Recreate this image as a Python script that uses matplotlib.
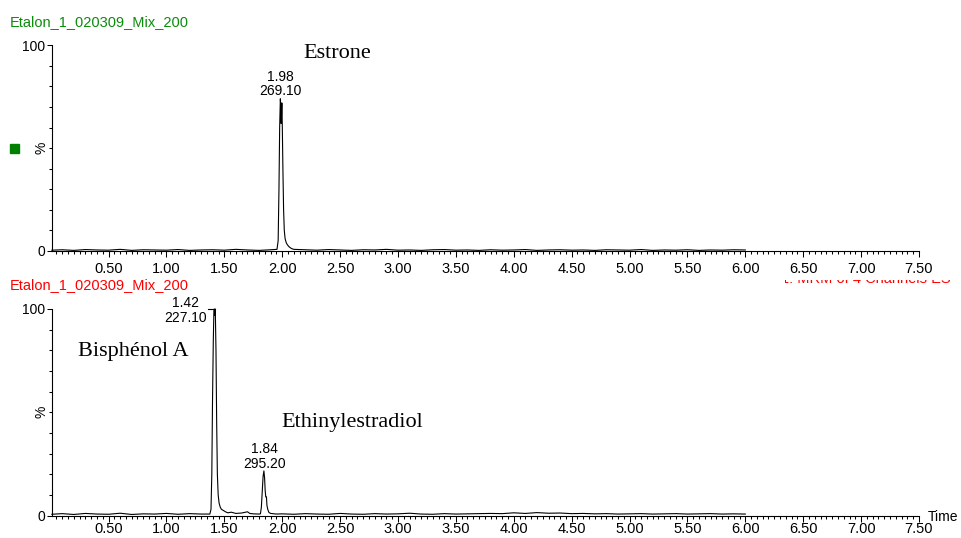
import matplotlib.pyplot as plt
from matplotlib.patches import Rectangle
from matplotlib.ticker import MultipleLocator
from matplotlib.transforms import Bbox

plt.rcParams['font.family'] = ['Liberation Sans', 'DejaVu Sans']

# top trace: Estrone, m/z 269.10 (% of base peak)
top_time = [0.01, 0.10, 0.20, 0.30, 0.40, 0.50, 0.60, 0.70, 0.80, 0.90,
            1.00, 1.10, 1.20, 1.30, 1.40, 1.50, 1.60, 1.70, 1.80, 1.90,
            1.955, 1.965, 1.972, 1.978, 1.984, 1.988, 1.991, 1.994, 1.997, 2.001,
            2.006, 2.012, 2.018, 2.025, 2.035, 2.045, 2.06, 2.08, 2.10,
            2.20, 2.30, 2.40, 2.50, 2.60, 2.70, 2.80, 2.90, 3.00, 3.10,
            3.20, 3.30, 3.40, 3.50, 3.60, 3.70, 3.80, 3.90, 4.00, 4.10,
            4.20, 4.30, 4.40, 4.50, 4.60, 4.70, 4.80, 4.90, 5.00, 5.10,
            5.20, 5.30, 5.40, 5.50, 5.60, 5.70, 5.80, 5.90, 6.00]
top_int = [0.4, 0.6, 0.3, 0.7, 0.5, 0.4, 0.8, 0.3, 0.6, 0.5,
           0.4, 0.7, 0.3, 0.5, 0.6, 0.4, 0.8, 0.5, 0.3, 0.6,
           0.8, 5, 30, 60, 74, 70, 62, 66, 72, 60,
           40, 20, 10, 6, 4, 3, 2, 1.2, 0.8,
           0.6, 0.4, 0.7, 0.5, 0.3, 0.6, 0.5, 0.8, 0.4, 0.5,
           0.3, 0.6, 0.7, 0.4, 0.5, 0.3, 0.6, 0.4, 0.5, 0.7,
           0.3, 0.5, 0.6, 0.4, 0.5, 0.3, 0.6, 0.5, 0.4, 0.7,
           0.3, 0.5, 0.4, 0.6, 0.3, 0.5, 0.4, 0.6, 0.5]

# bottom trace: Bisphenol A (227.10) + Ethinylestradiol (295.20)
bot_time = [0.01, 0.10, 0.20, 0.30, 0.40, 0.50, 0.60, 0.70, 0.80, 0.90,
            1.00, 1.10, 1.20, 1.30,
            1.375, 1.385, 1.392, 1.398, 1.405, 1.410, 1.414, 1.418, 1.422, 1.428,
            1.434, 1.440, 1.447, 1.455, 1.465, 1.475, 1.49, 1.51, 1.53, 1.56,
            1.60, 1.65, 1.70, 1.72, 1.75, 1.80,
            1.812, 1.82, 1.828, 1.835, 1.842, 1.848, 1.853, 1.858, 1.864, 1.868,
            1.875, 1.885, 1.90, 1.95,
            2.00, 2.10, 2.20, 2.30, 2.40, 2.50, 2.60, 2.70, 2.80, 2.90,
            3.00, 3.10, 3.20, 3.30, 3.40, 3.50, 3.60, 3.70, 3.80, 3.90,
            4.00, 4.10, 4.20, 4.30, 4.40, 4.50, 4.60, 4.70, 4.80, 4.90,
            5.00, 5.10, 5.20, 5.30, 5.40, 5.50, 5.60, 5.70, 5.80, 5.90, 6.00]
bot_int = [0.6, 0.9, 0.5, 1.0, 0.7, 0.6, 1.1, 0.5, 0.8, 0.7,
           1.0, 0.6, 0.9, 0.7,
           0.7, 3, 20, 55, 85, 99, 100, 97, 100, 80,
           45, 20, 10, 6, 4, 3, 2.5, 1.8, 1.3, 1.6,
           1.0, 1.2, 1.8, 1.0, 0.8, 0.7,
           0.8, 4, 12, 19, 21.6, 18, 12, 9, 9, 5,
           3, 1.5, 1.0, 0.7,
           0.8, 0.6, 0.9, 0.7, 0.6, 1.0, 0.7, 0.6, 0.9, 0.7,
           0.8, 1.1, 0.7, 0.6, 0.9, 0.7, 0.8, 0.9, 1.0, 0.9,
           1.3, 1.0, 1.4, 1.1, 1.2, 0.9, 1.0, 0.8, 0.9, 0.7,
           0.8, 0.9, 0.7, 0.8, 0.9, 0.7, 0.8, 0.9, 0.7, 0.8, 0.7]

x_ticks = [0.5, 1.0, 1.5, 2.0, 2.5, 3.0, 3.5, 4.0, 4.5, 5.0, 5.5, 6.0, 6.5, 7.0, 7.5]
x_labels = ["0.50", "1.00", "1.50", "2.00", "2.50", "3.00", "3.50", "4.00",
            "4.50", "5.00", "5.50", "6.00", "6.50", "7.00", "7.50"]

sample_name = "Etalon_1_020309_Mix_200"

W, H = 962, 538
fig = plt.figure(figsize=(W / 100, H / 100), dpi=100)


def px_axes(left, top, right, bottom):
    return fig.add_axes([left / W, 1 - bottom / H, (right - left) / W, (bottom - top) / H])


def style(ax, xpad):
    ax.set_xlim(0.01, 7.5)
    ax.set_ylim(0, 100)
    for s in ("top", "right"):
        ax.spines[s].set_visible(False)
    for s in ("left", "bottom"):
        ax.spines[s].set_linewidth(0.8)
    ax.set_xticks(x_ticks)
    ax.set_xticklabels(x_labels)
    ax.xaxis.set_minor_locator(MultipleLocator(0.05))
    ax.set_yticks([0, 100])
    ax.set_yticklabels(["0", "100"])
    ax.yaxis.set_minor_locator(MultipleLocator(10))
    ax.tick_params(axis="x", which="major", length=4.3, width=0.75, pad=xpad, labelsize=10.5)
    ax.tick_params(axis="x", which="minor", length=2.5, width=0.75)
    ax.tick_params(axis="y", which="major", length=3.6, width=0.75, pad=1.2, labelsize=10)
    ax.tick_params(axis="y", which="minor", length=2.2, width=0.75)
    ax.text(-0.0116, 0.5, "%", transform=ax.transAxes, rotation=90,
            ha="center", va="center", fontsize=10)


ax1 = px_axes(51.8, 45.3, 919, 251)
ax2 = px_axes(51.8, 309, 919, 515.5)
style(ax1, 3.4)
style(ax2, 0.6)

ax1.plot(top_time, top_int, color="black", lw=0.8, clip_on=False)
ax2.plot(bot_time, bot_int, color="black", lw=0.8, clip_on=False)

# peak labels
ax1.text(1.985, 81.2, "1.98\n269.10", ha="center", va="center", fontsize=10, linespacing=1.05)
ax2.text(1.169, 99.4, "1.42\n227.10", ha="center", va="center", fontsize=10, linespacing=1.05)
ax2.plot([1.355, 1.42], [100, 100], color="black", lw=0.8, clip_on=False)
ax2.text(1.845, 28.5, "1.84\n295.20", ha="center", va="center", fontsize=10, linespacing=1.05)

# compound names
serif = ["Liberation Serif", "DejaVu Serif"]
ax1.text(2.478, 93.7, "Estrone", ha="center", va="baseline", fontsize=16, family=serif)
ax2.text(0.712, 77.0, "Bisphénol A", ha="center", va="baseline", fontsize=16, family=serif)
ax2.text(2.603, 42.7, "Ethinylestradiol", ha="center", va="baseline", fontsize=16, family=serif)

# headers and decorations
fig.text(10 / W, 1 - 26 / H, sample_name, color="#0b8c0b", fontsize=10.5, va="baseline")
fig.text(10 / W, 1 - 289.5 / H, sample_name, color="#ff0000", fontsize=10.5, va="baseline")
fig.add_artist(Rectangle((10 / W, 1 - 153 / H), 9 / W, 9 / H,
                         transform=fig.transFigure, color="#008000"))
# channel description hidden under the upper axis labels, only a sliver shows
hidden = fig.text(956 / W, 1 - 283 / H, "1: MRM of 4 Channels ES-", color="#ff0000",
                  fontsize=10.5, ha="right", va="baseline")
hidden.set_clip_on(True)
hidden.set_clip_box(Bbox.from_extents(785, H - 282.6, 962, H - 280.4))

fig.text(943 / W, 1 - 517 / H, "Time", ha="center", va="center", fontsize=10)

fig.savefig("out.png", dpi=100)
